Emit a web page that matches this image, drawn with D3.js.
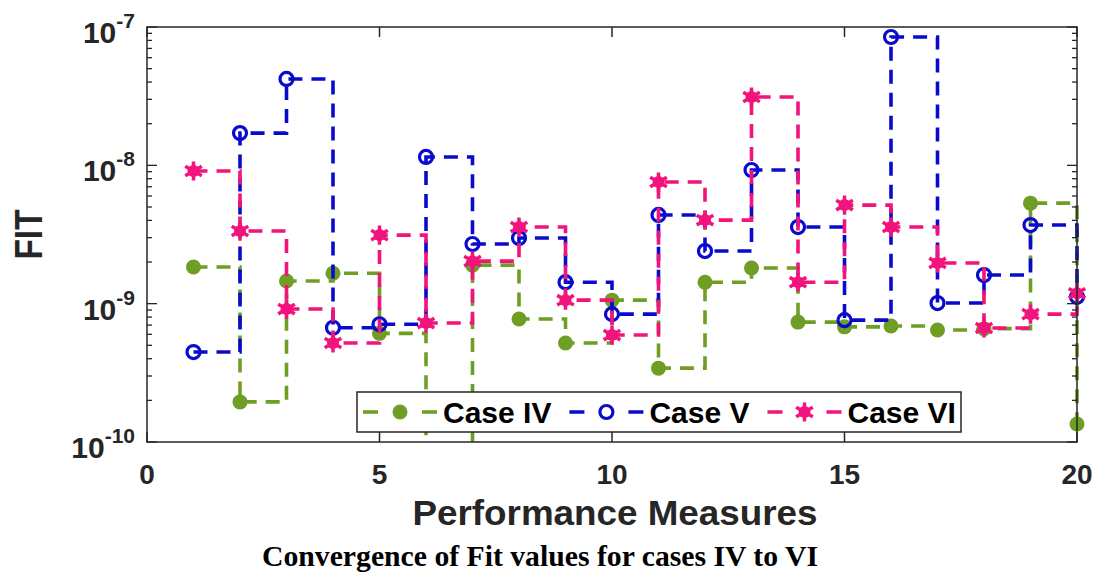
<!DOCTYPE html>
<html>
<head>
<meta charset="utf-8">
<script src="https://cdn.jsdelivr.net/npm/d3@7"></script>
<style>
  body { margin: 0; background: #fff; }
  text { font-family: "Liberation Sans", Arial, sans-serif; font-weight: bold; fill: #262626; }
</style>
</head>
<body>
<script>
var width = 1103,
    height = 573;

// data
var measures = d3.range(1, 21);
var caseIV = [1.84e-9, 1.95e-10, 1.46e-9, 1.66e-9, 6.1e-10, 8e-11, 1.9e-9, 7.75e-10, 5.2e-10, 1.06e-9,
              3.42e-10, 1.43e-9, 1.81e-9, 7.36e-10, 6.8e-10, 6.9e-10, 6.45e-10, 6.6e-10, 5.33e-9, 1.35e-10];
var caseV  = [4.47e-10, 1.71e-8, 4.21e-8, 6.7e-10, 7.1e-10, 1.15e-8, 2.7e-9, 2.98e-9, 1.43e-9, 8.4e-10,
              4.38e-9, 2.4e-9, 9.25e-9, 3.58e-9, 7.6e-10, 8.47e-8, 1.01e-9, 1.61e-9, 3.7e-9, 1.12e-9];
var caseVI = [9.1e-9, 3.35e-9, 9.14e-10, 5.2e-10, 3.13e-9, 7.24e-10, 2.03e-9, 3.58e-9, 1.06e-9, 5.93e-10,
              7.57e-9, 4.02e-9, 3.12e-8, 1.43e-9, 5.16e-9, 3.58e-9, 1.97e-9, 6.67e-10, 8.4e-10, 1.19e-9];
var seriesNames = ["Case IV", "Case V", "Case VI"];
var xTicks = [0, 5, 10, 15, 20];
var yTicks = [1e-10, 1e-9, 1e-8, 1e-7];
var yTickExp = ["-10", "-9", "-8", "-7"];

var colors = ["#6e9e23", "#0a0acc", "#f2137c"];
var markers = ["dot", "ring", "star"];

var margin = {left: 147, right: 26, top: 27, bottom: 131};
var pw = width - margin.left - margin.right,
    ph = height - margin.top - margin.bottom;

var svg = d3.select("body").append("svg")
    .attr("width", width)
    .attr("height", height);

var x = d3.scaleLinear().domain([0, 20]).range([0, pw]);
var y = d3.scaleLog().domain([1e-10, 1e-7]).range([ph, 0]);

var g = svg.append("g")
    .attr("transform", "translate(" + margin.left + "," + margin.top + ")");

// clip only top/bottom, markers at x=20 stay whole
svg.append("defs").append("clipPath").attr("id", "clip")
  .append("rect").attr("x", -15).attr("width", pw + 30).attr("height", ph);

// series
var all = [caseIV, caseV, caseVI];
var line = d3.line()
    .x(function(d, i) { return x(measures[i]); })
    .y(function(d) { return y(d); })
    .curve(d3.curveStepAfter);

var plot = g.append("g").attr("clip-path", "url(#clip)");

function drawMarker(sel, kind, color) {
  if (kind == "dot") {
    sel.append("circle").attr("r", 7.5).attr("fill", color);
  } else if (kind == "ring") {
    sel.append("circle").attr("r", 6.5).attr("fill", "none")
      .attr("stroke", color).attr("stroke-width", 3.2);
  } else {
    sel.append("circle").attr("r", 6).attr("fill", color);
    sel.append("path").attr("d", d3.symbol(d3.symbolAsterisk, 260)())
      .attr("fill", "none").attr("stroke", color).attr("stroke-width", 3.5);
  }
}

all.forEach(function(vals, k) {
  plot.append("path")
    .datum(vals)
    .attr("d", line)
    .attr("fill", "none")
    .attr("stroke", colors[k])
    .attr("stroke-width", 3.6)
    .attr("stroke-dasharray", "14,9");
  plot.selectAll(".m" + k)
    .data(vals)
    .enter().append("g")
      .attr("class", "m" + k)
      .attr("transform", function(d, i) { return "translate(" + x(measures[i]) + "," + y(d) + ")"; })
      .each(function() { drawMarker(d3.select(this), markers[k], colors[k]); });
});

// box + ticks
var axisColor = "#262626";
g.append("rect")
    .attr("width", pw).attr("height", ph)
    .attr("fill", "none").attr("stroke", axisColor).attr("stroke-width", 1.5);

xTicks.forEach(function(t) {
  g.append("line").attr("x1", x(t)).attr("x2", x(t)).attr("y1", ph).attr("y2", ph - 10)
    .attr("stroke", axisColor).attr("stroke-width", 1.5);
  g.append("line").attr("x1", x(t)).attr("x2", x(t)).attr("y1", 0).attr("y2", 10)
    .attr("stroke", axisColor).attr("stroke-width", 1.5);
  g.append("text").attr("x", x(t)).attr("y", ph + 42)
    .attr("text-anchor", "middle").style("font-size", "28px").text(t);
});

y.ticks().forEach(function(t) {
  var major = yTicks.indexOf(t) >= 0;
  var len = major ? 10 : 5;
  g.append("line").attr("x1", 0).attr("x2", len).attr("y1", y(t)).attr("y2", y(t))
    .attr("stroke", axisColor).attr("stroke-width", 1.3);
  g.append("line").attr("x1", pw).attr("x2", pw - len).attr("y1", y(t)).attr("y2", y(t))
    .attr("stroke", axisColor).attr("stroke-width", 1.3);
});

yTicks.forEach(function(t, i) {
  var lab = g.append("text")
    .attr("x", -12).attr("y", y(t) + 16)
    .attr("text-anchor", "end")
    .style("font-size", "30px");
  lab.append("tspan").text("10");
  lab.append("tspan").attr("dy", -15).style("font-size", "21px").text(yTickExp[i]);
});

// axis titles
svg.append("text")
    .attr("transform", "translate(42," + (margin.top + ph / 2) + ") rotate(-90)")
    .attr("text-anchor", "middle")
    .attr("textLength", 50).attr("lengthAdjust", "spacingAndGlyphs")
    .style("font-size", "39px")
    .text("FIT");

svg.append("text")
    .attr("x", 615).attr("y", 525)
    .attr("text-anchor", "middle")
    .attr("textLength", 405).attr("lengthAdjust", "spacingAndGlyphs")
    .style("font-size", "35px")
    .text("Performance Measures");

svg.append("text")
    .attr("x", 540).attr("y", 566)
    .attr("text-anchor", "middle")
    .attr("textLength", 556).attr("lengthAdjust", "spacingAndGlyphs")
    .style("font-family", "'Liberation Serif', 'Times New Roman', serif")
    .style("font-size", "29px").style("fill", "#000")
    .text("Convergence of Fit values for cases IV to VI");

// legend
var legend = svg.append("g").attr("transform", "translate(357,392)");
legend.append("rect")
    .attr("width", 604).attr("height", 40)
    .attr("fill", "#fff").attr("stroke", axisColor).attr("stroke-width", 1.5);

var lx = 6;
seriesNames.forEach(function(name, k) {
  var e = legend.append("g").attr("transform", "translate(" + lx + ",0)");
  e.append("line").attr("x1", 0).attr("x2", 74).attr("y1", 20).attr("y2", 20)
    .attr("stroke", colors[k]).attr("stroke-width", 3.6)
    .attr("stroke-dasharray", "15,44");
  var m = e.append("g").attr("transform", "translate(37,20)");
  drawMarker(m, markers[k], colors[k]);
  var t = e.append("text").attr("x", 80).attr("y", 31)
    .style("font-size", "30px").style("fill", "#000").text(name);
  lx += 80 + t.node().getComputedTextLength() + 18;
});
</script>
</body>
</html>
